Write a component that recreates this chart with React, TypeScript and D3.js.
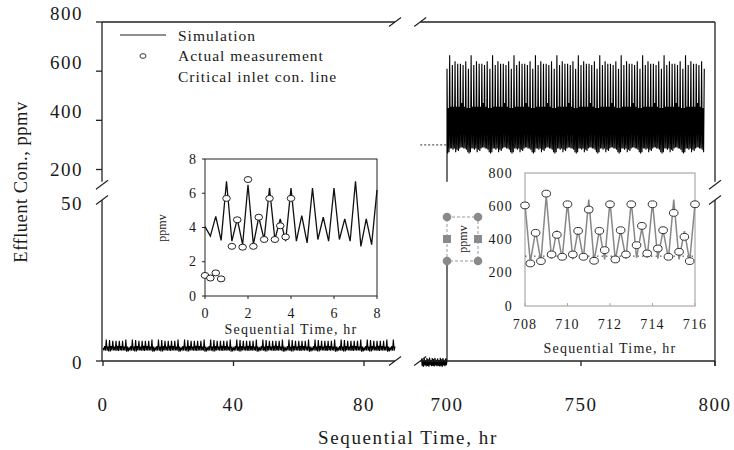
import React from 'react';
import * as d3 from 'd3';

const W = 734;
const H = 450;
const font = "'Liberation Serif', 'Times New Roman', serif";

// sampled every 0.25 hr
const step = 0.25;

// inset 1 (0-8 hr)
const simEarly = [4.05, 3.5, 4.65, 3.25, 6.7, 3.2, 4.5, 3.0, 6.5, 3.0, 4.6, 3.3, 6.3, 3.3, 4.5, 3.2,
  6.3, 3.2, 4.7, 3.1, 6.3, 3.3, 4.6, 3.2, 6.3, 3.3, 4.5, 3.2, 6.7, 2.9, 4.5, 3.0, 6.2];
const obsEarly = [1.2, 1.05, 1.35, 1.0, 5.7, 2.9, 4.45, 2.85, 6.8, 2.9, 4.6, 3.3, 5.7, 3.3, 4.1, 3.45, 5.7];

// inset 2 (708-716 hr)
const simLate = [610, 265, 450, 270, 665, 285, 455, 285, 625, 280, 455, 285, 640, 270, 455, 280,
  630, 275, 455, 285, 630, 290, 470, 290, 625, 285, 455, 285, 640, 280, 450, 270, 615];
const obsLate = [605, 256, 440, 270, 676, 310, 428, 296, 612, 310, 452, 296, 580, 272, 452, 336,
  612, 280, 456, 310, 612, 366, 482, 316, 612, 346, 456, 296, 560, 326, 416, 270, 612];

// values just before the 700 hr step (690.5-699.75 hr)
const nearZero = [0.8, -1.6, 0.4, -1.8, 1.0, -1.4, 0.2, -1.7, 0.9, -1.5, 0.5, -1.8, 1.1, -1.3, 0.3, -1.6,
  0.9, -1.5, 0.6, -1.7, 1.0, -1.4, 0.4, -1.6, 0.8, -1.5, 0.3, -1.7, 1.0, -1.6, 0.5, -1.8, 0.9, -1.4,
  0.4, -1.6, 0.8, -1.3];

const criticalLevel = 300;
const yTicksUpper = [200, 400, 600, 800];
const yTicksLower = [0, 50];
const xTicksLeft = [0, 40, 80];
const xTicksRight = [700, 750, 800];
const earlyTicks = [0, 2, 4, 6, 8];
const lateXTicks = [708, 710, 712, 714, 716];
const lateYTicks = [0, 200, 400, 600, 800];
const legendItems = ['Simulation', 'Actual measurement', 'Critical inlet con. line'];

type Pt = [number, number];

// main band repeats the 8 hr cycle seen in the insets
const tile = (cycle: number[], t0: number, t1: number): Pt[] =>
  d3.range(t0, t1 + 1e-9, step).map((t, i) => [t, cycle[i % cycle.length]] as Pt);

const leftSeries = tile(simEarly.slice(0, 32), 0, 89.5);
const rightSeries: Pt[] = [
  ...nearZero.map((v, i) => [690.5 + i * step, v] as Pt),
  [700, 0],
  ...tile(simLate.slice(0, 32), 700, 796),
];

export default function App() {
  // main scales (broken axes)
  const xL = d3.scaleLinear().domain([0, 80]).range([103, 364]);
  const xR = d3.scaleLinear().domain([700, 800]).range([447, 715]);
  const yUp = d3.scaleLinear().domain([200, 800]).range([169.5, 22]);
  const yLo = d3.scaleLinear().domain([0, 50]).range([361, 200]);
  const yM = (v: number) => (v > 100 ? yUp(v) : yLo(v));

  const lineL = d3.line<Pt>().x(d => xL(d[0])).y(d => yM(d[1]));
  const lineR = d3.line<Pt>().x(d => xR(d[0])).y(d => yM(d[1]));

  // inset scales
  const x1 = d3.scaleLinear().domain([0, 8]).range([205, 377]);
  const y1 = d3.scaleLinear().domain([0, 8]).range([296, 159]);
  const x2 = d3.scaleLinear().domain([708, 716]).range([525, 695]);
  const y2 = d3.scaleLinear().domain([0, 800]).range([306, 173]);

  const line1 = d3.line<number>().x((_, i) => x1(i * step)).y(d => y1(d));
  const line2 = d3.line<number>().x((_, i) => x2(708 + i * step)).y(d => y2(d));

  const axisTop = yUp(800);
  const axisBot = yLo(0);
  const leftEnd = xL(89.5);
  const rightStart = xR(690);
  const breakUp = yUp(150);
  const breakLo = yLo(50);

  const slash = (cx: number, cy: number, key: string) => (
    <line key={key} x1={cx - 6} y1={cy + 4.5} x2={cx + 6} y2={cy - 4.5} stroke="#222" strokeWidth={1.2} />
  );

  const txt = '#1a1a1a';

  return (
    <svg width={W} height={H} style={{ position: 'absolute', left: 0, top: 0, background: '#fff' }}
      fontFamily={font}>
      <rect width={W} height={H} fill="#fff" />

      {/* main data */}
      <path d={lineL(leftSeries) ?? ''} fill="none" stroke="#000" strokeWidth={1.1} />
      <line x1={rightStart} x2={xR(700)} y1={yUp(criticalLevel)} y2={yUp(criticalLevel)}
        stroke="#333" strokeDasharray="2,2" />
      <path d={lineR(rightSeries) ?? ''} fill="none" stroke="#000" strokeWidth={1.1} />

      {/* frame */}
      <g stroke="#222" strokeWidth={1.3} fill="none">
        <line x1={102} x2={leftEnd} y1={axisTop} y2={axisTop} />
        <line x1={rightStart} x2={715} y1={axisTop} y2={axisTop} />
        <line x1={102} x2={leftEnd} y1={axisBot} y2={axisBot} />
        <line x1={rightStart} x2={715} y1={axisBot} y2={axisBot} />
        <line x1={102} x2={102} y1={axisTop} y2={breakUp} />
        <line x1={102} x2={102} y1={breakLo} y2={axisBot} />
        <line x1={715} x2={715} y1={axisTop} y2={breakUp} />
        <line x1={715} x2={715} y1={breakLo} y2={axisBot + 5} />
        {yTicksUpper.map(t => <line key={'yt' + t} x1={96} x2={102} y1={yUp(t)} y2={yUp(t)} />)}
        <line x1={96} x2={102} y1={yLo(0)} y2={yLo(0)} />
        {xTicksLeft.map(t => <line key={'xl' + t} x1={xL(t)} x2={xL(t)} y1={axisBot} y2={axisBot + 5} />)}
        {xTicksRight.slice(1).map(t => <line key={'xr' + t} x1={xR(t)} x2={xR(t)} y1={axisBot} y2={axisBot + 5} />)}
      </g>
      {slash(102, breakUp + 3, 's1')}
      {slash(102, breakLo, 's2')}
      {slash(715, breakUp + 3, 's3')}
      {slash(715, breakLo, 's4')}
      {slash(leftEnd, axisTop, 's5')}
      {slash(rightStart, axisTop, 's6')}
      {slash(leftEnd, axisBot, 's7')}
      {slash(rightStart, axisBot, 's8')}

      {/* main tick labels */}
      <g fill={txt} fontSize={19} letterSpacing={1.5}>
        {yTicksUpper.map(t => (
          <text key={'yl' + t} x={83} y={yUp(t) - (t === 200 ? 0 : 9)} textAnchor="end" dominantBaseline="central">{t}</text>
        ))}
        {yTicksLower.map(t => (
          <text key={'yll' + t} x={83} y={yLo(t) + (t === 50 ? 3 : 1)} textAnchor="end" dominantBaseline="central">{t}</text>
        ))}
        {xTicksLeft.map(t => (
          <text key={'xll' + t} x={xL(t)} y={404} textAnchor="middle" dominantBaseline="central">{t}</text>
        ))}
        {xTicksRight.map(t => (
          <text key={'xrl' + t} x={xR(t)} y={404} textAnchor="middle" dominantBaseline="central">{t}</text>
        ))}
      </g>
      <text x={408} y={437} fill={txt} fontSize={19} letterSpacing={1.6} textAnchor="middle"
        dominantBaseline="central">Sequential Time, hr</text>
      <text transform="translate(21,182) rotate(-90)" fill={txt} fontSize={18.5} letterSpacing={0.5}
        textAnchor="middle" dominantBaseline="central">Effluent Con., ppmv</text>

      {/* legend */}
      <line x1={120} x2={166} y1={35} y2={35} stroke="#222" strokeWidth={1.2} />
      <ellipse cx={143} cy={56} rx={3} ry={2.3} fill="#fff" stroke="#333" />
      <g fill={txt} fontSize={15.5} letterSpacing={1}>
        {legendItems.map((s, i) => (
          <text key={s} x={178} y={35 + i * 20.5} dominantBaseline="central">{s}</text>
        ))}
      </g>

      {/* inset 1 */}
      <rect x={205} y={159} width={172} height={137} fill="#fff" stroke="#222" strokeWidth={1} />
      <g stroke="#222">
        {earlyTicks.map(t => <line key={'a' + t} x1={202} x2={205} y1={y1(t)} y2={y1(t)} />)}
        {earlyTicks.map(t => <line key={'b' + t} x1={x1(t)} x2={x1(t)} y1={296} y2={299} />)}
      </g>
      <path d={line1(simEarly) ?? ''} fill="none" stroke="#111" strokeWidth={1.3} />
      {obsEarly.map((v, i) => (
        <ellipse key={'o1' + i} cx={x1(i * step)} cy={y1(v)} rx={3.8} ry={3} fill="#fff" stroke="#222" strokeWidth={1} />
      ))}
      <g fill={txt} fontSize={14}>
        {earlyTicks.map(t => (
          <text key={'l1' + t} x={196} y={y1(t)} textAnchor="end" dominantBaseline="central">{t}</text>
        ))}
        {earlyTicks.map(t => (
          <text key={'m1' + t} x={x1(t)} y={313} textAnchor="middle" dominantBaseline="central">{t}</text>
        ))}
      </g>
      <text x={291} y={329} fill={txt} fontSize={14} letterSpacing={1.2} textAnchor="middle"
        dominantBaseline="central">Sequential Time, hr</text>
      <text transform="translate(162,228) rotate(-90)" fill={txt} fontSize={12} textAnchor="middle"
        dominantBaseline="central">ppmv</text>

      {/* inset 2 */}
      <rect x={440} y={breakUp} width={46} height={257 - breakUp} fill="#fff" />
      <rect x={525} y={173} width={170} height={133} fill="#fff" stroke="#aaa" strokeWidth={1.2} />
      <g stroke="#aaa">
        {lateXTicks.map(t => <line key={'c' + t} x1={x2(t)} x2={x2(t)} y1={306} y2={303} />)}
      </g>
      <line x1={525} x2={695} y1={y2(criticalLevel)} y2={y2(criticalLevel)} stroke="#333" strokeDasharray="1.5,3" />
      <path d={line2(simLate) ?? ''} fill="none" stroke="#888" strokeWidth={1.5} />
      {obsLate.map((v, i) => (
        <ellipse key={'o2' + i} cx={x2(708 + i * step)} cy={y2(v)} rx={4.3} ry={3.4} fill="#fff" stroke="#333" strokeWidth={1} />
      ))}
      <g fill={txt} fontSize={14} letterSpacing={1.2}>
        {lateYTicks.map(t => (
          <text key={'l2' + t} x={513} y={y2(t)} textAnchor="end" dominantBaseline="central">{t}</text>
        ))}
        {lateXTicks.map(t => (
          <text key={'m2' + t} x={x2(t)} y={324} textAnchor="middle" dominantBaseline="central">{t}</text>
        ))}
      </g>
      <text x={610} y={348} fill={txt} fontSize={14} letterSpacing={1.2} textAnchor="middle"
        dominantBaseline="central">Sequential Time, hr</text>

      {/* selected axis title box */}
      <rect x={447} y={217} width={31} height={44} fill="none" stroke="#999" strokeDasharray="3,2" />
      {[[447, 217], [478, 217], [447, 261], [478, 261]].map(([cx, cy], i) => (
        <circle key={'h' + i} cx={cx} cy={cy} r={4.3} fill="#8a8a8a" />
      ))}
      {[447, 478].map(cx => <rect key={'q' + cx} x={cx - 4} y={235} width={8} height={8} fill="#8a8a8a" />)}
      <text transform="translate(463,239) rotate(-90)" fill={txt} fontSize={12} textAnchor="middle"
        dominantBaseline="central">ppmv</text>
    </svg>
  );
}
